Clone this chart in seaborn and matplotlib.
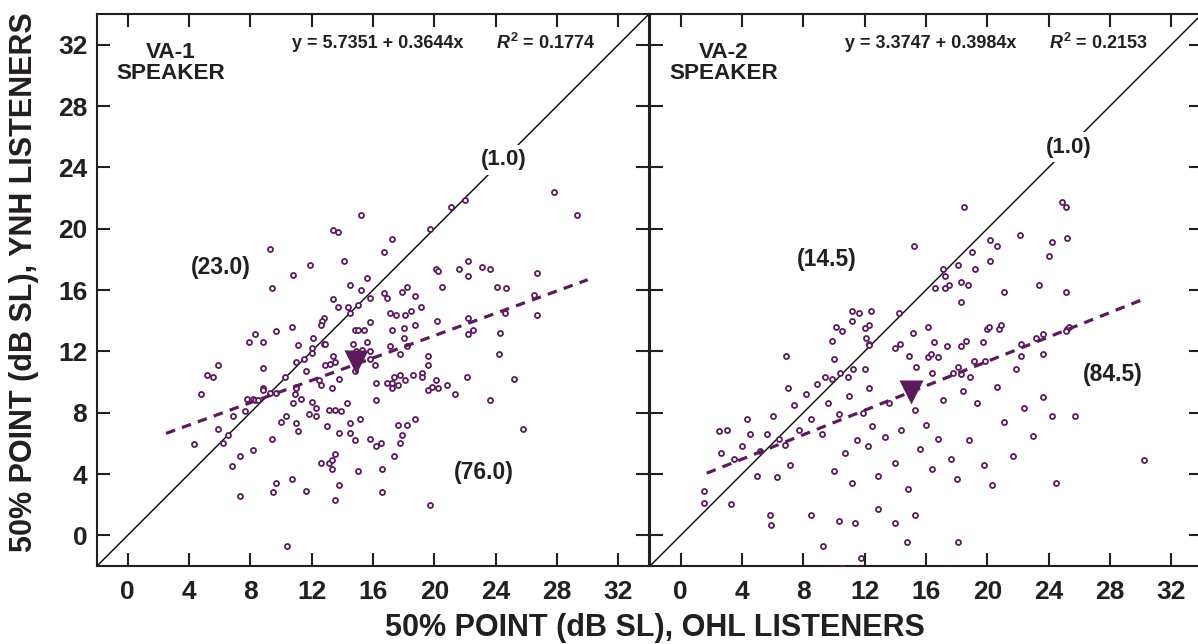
import numpy as np
import pandas as pd
import matplotlib
matplotlib.use("Agg")
import matplotlib.pyplot as plt
import seaborn as sns

# ---------------- data ----------------
va1_x = [15.25, 13.4, 13.7, 9.3, 16.7, 14.1, 11.9, 10.8, 15.6, 9.4, 14.5, 15.2, 16.7, 15.8, 13.4, 13.7,
         14.4, 15.0, 14.5, 12.8, 12.7, 12.6, 15.8, 10.7, 9.7, 8.3, 7.9, 8.8, 12.1, 14.8, 15.0, 15.4,
         11.1, 12.0, 12.8, 12.9, 14.7, 15.6, 14.9, 15.3, 15.8, 12.0, 13.4, 11.0, 11.5, 5.9, 8.8, 12.9,
         13.2, 13.5, 15.8, 16.1,
         27.8, 29.3, 22.0, 21.1, 19.7, 17.25, 22.2, 20.1, 20.25, 21.6, 23.1, 23.6, 22.2, 26.7, 20.5,
         24.1, 24.7, 16.9, 18.2, 17.9, 18.75, 26.5, 17.1, 17.5, 18.1, 18.5, 19.1, 24.6, 26.7, 17.25,
         18.0, 18.75, 20.2, 22.2, 22.2, 22.5, 24.3, 18.0, 17.1, 18.25, 17.75, 19.6, 19.6, 24.2,
         5.2, 5.55, 4.8, 10.25, 11.6, 8.8, 8.8, 9.3, 9.65, 7.8, 8.15, 8.3, 8.5, 11.0, 11.0, 10.9, 11.3,
         10.8, 12.0, 12.3, 11.8, 12.3, 12.5, 12.6, 13.3, 13.8, 14.8, 16.2, 16.2, 14.3, 13.1, 13.5, 13.9,
         6.9, 7.65, 10.3, 10.0, 11.0, 11.1, 5.9, 6.55, 6.2, 4.3, 13.0, 13.8, 14.5, 14.5, 15.15, 14.8,
         15.8, 16.2, 16.5, 9.4, 8.15, 7.3, 6.8, 13.5, 12.6, 13.1, 13.3, 13.3, 15.0, 16.6, 9.7, 10.7,
         9.5, 11.6, 13.8, 13.5, 16.6, 7.3, 10.4,
         16.9, 17.25, 17.4, 17.75, 18.1, 18.6, 19.2, 19.2, 17.25, 17.6, 19.6, 19.85, 20.1, 20.25, 20.85,
         21.35, 22.1, 25.2, 23.6, 18.75, 17.6, 18.25, 17.9, 17.75, 17.4, 25.8, 19.7]
va1_y = [20.9, 19.9, 19.8, 18.7, 18.5, 17.9, 17.6, 17.0, 16.8, 16.1, 16.3, 16.0, 15.8, 15.5, 15.4, 14.9,
         14.9, 15.0, 14.5, 14.2, 14.0, 13.75, 13.9, 13.6, 13.3, 13.1, 12.6, 12.6, 12.85, 13.4, 13.4, 13.4,
         12.4, 12.2, 12.5, 12.5, 12.5, 12.6, 12.0, 12.1, 12.0, 11.9, 11.7, 11.3, 11.5, 11.1, 10.9, 11.1,
         11.2, 11.3, 11.5, 11.1,
         22.4, 20.9, 21.9, 21.4, 20.0, 19.3, 17.9, 17.4, 17.25, 17.4, 17.5, 17.4, 16.9, 17.1, 16.2,
         16.2, 16.1, 15.5, 16.2, 15.9, 15.6, 15.7, 14.5, 14.4, 14.4, 14.6, 14.9, 14.5, 14.4, 13.4,
         13.5, 13.7, 14.0, 14.2, 13.1, 13.4, 13.2, 12.85, 12.35, 12.35, 11.85, 11.7, 11.1, 11.85,
         10.45, 10.35, 9.2, 10.35, 10.7, 9.6, 9.45, 9.3, 9.3, 8.9, 8.9, 8.8, 8.8, 9.7, 9.6, 9.2, 8.9,
         8.6, 8.7, 8.3, 7.9, 7.8, 10.1, 9.8, 9.6, 10.2, 10.7, 9.95, 8.8, 8.6, 8.2, 8.2, 8.1,
         7.8, 8.1, 7.8, 7.4, 7.3, 6.8, 6.95, 6.55, 6.05, 5.95, 7.1, 6.7, 7.3, 6.7, 7.6, 6.2,
         6.3, 5.8, 6.05, 6.3, 5.55, 5.2, 4.55, 5.3, 4.7, 4.7, 4.9, 4.3, 4.2, 4.3, 3.4, 3.7,
         2.8, 2.9, 3.3, 2.3, 2.8, 2.55, -0.7,
         9.95, 9.95, 10.35, 10.45, 10.1, 10.45, 10.6, 10.35, 9.6, 9.8, 9.45, 9.7, 10.1, 9.6, 9.8,
         9.2, 10.3, 10.2, 8.8, 7.6, 7.2, 7.2, 6.55, 6.05, 5.2, 6.95, 2.0]

va2_x = [15.2, 6.9, 11.15, 11.6, 12.4, 11.15, 10.1, 10.5, 12.0, 12.3, 9.9, 12.1, 12.3, 12.25, 14.25, 15.15,
         14.3, 14.0, 14.9, 16.1, 16.1, 15.35, 10.0, 9.4, 9.9, 10.4, 10.9, 11.25, 12.0,
         24.85, 25.1, 18.5, 22.1, 20.2, 20.6, 24.2, 25.2, 19.0, 20.2, 24.0, 18.1, 19.2, 17.1, 17.25,
         18.25, 18.75, 17.5, 17.25, 16.6, 23.35, 21.1, 25.1, 18.25, 20.0, 20.1, 20.75, 20.9, 25.2, 25.35,
         25.1, 16.5, 18.6, 19.7, 17.35, 18.25, 22.2, 23.2, 23.6, 16.35, 16.75, 22.2, 23.6, 19.1, 19.85,
         18.1, 16.4, 17.75, 18.25, 18.9, 21.85,
         3.3, 5.8, 5.9, 8.5, 9.25, 10.3, 11.35, 11.75, 10.5, 12.9, 14.0, 14.75, 15.25, 18.1,
         2.5, 3.0, 2.6, 3.5, 4.0, 4.5, 4.3, 5.2, 5.6, 6.0, 6.4, 6.8, 7.1, 7.4, 7.7, 7.0, 6.3, 5.0, 1.5, 1.5,
         8.2, 8.5, 8.9, 9.2, 9.6, 10.0, 10.3, 10.7, 11.0, 11.2, 11.5, 11.9, 12.2, 12.5, 12.9, 12.3,
         13.3, 13.6, 14.0, 14.4, 14.8, 15.3, 15.6, 16.0, 16.4, 16.8, 17.1, 17.6, 18.0, 18.4,
         18.8, 19.3, 19.8, 20.3, 20.6, 21.1, 21.7, 22.4, 23.0, 23.6, 24.2, 24.5, 25.7, 30.2]
va2_y = [18.9, 11.7, 14.6, 14.5, 14.6, 14.0, 13.6, 13.35, 13.5, 13.7, 12.7, 12.85, 12.5, 12.4, 14.5, 13.2,
         12.5, 12.2, 11.7, 13.6, 11.6, 11.0, 11.5, 10.35, 10.2, 10.6, 10.35, 10.85, 10.85,
         21.75, 21.4, 21.4, 19.6, 19.25, 18.9, 19.1, 19.4, 18.5, 17.9, 18.25, 17.6, 17.4, 17.4, 16.9,
         16.5, 16.35, 16.35, 16.1, 16.1, 16.35, 15.85, 15.85, 15.2, 13.45, 13.6, 13.45, 13.7, 13.45, 13.6,
         13.3, 12.6, 12.7, 12.6, 12.35, 12.35, 12.5, 12.85, 13.1, 11.85, 11.6, 11.7, 11.85, 11.35, 11.35,
         11.0, 10.6, 10.6, 10.5, 10.35, 10.85,
         2.05, 1.3, 0.65, 1.3, -0.7, 0.95, 0.8, -1.45, -2.1, 1.7, 0.8, -0.45, 1.3, -0.45,
         6.8, 6.9, 5.4, 5.0, 5.8, 6.6, 7.6, 5.5, 6.6, 7.8, 6.3, 5.9, 4.6, 8.5, 6.9, 9.6, 3.8, 3.9, 2.9, 2.1,
         9.2, 7.6, 9.9, 6.6, 8.6, 4.2, 7.9, 5.4, 9.1, 3.4, 6.2, 8.0, 5.8, 7.1, 3.9, 9.6,
         6.4, 8.6, 4.7, 6.9, 3.0, 8.2, 5.6, 7.2, 4.3, 6.3, 8.8, 5.0, 3.7, 9.4,
         6.2, 8.6, 4.6, 3.3, 9.7, 7.4, 5.2, 8.3, 6.5, 9.0, 7.8, 3.4, 7.8, 4.9]

panels = ["VA-1", "VA-2"]
fit_intercept = [5.7351, 3.3747]
fit_slope = [0.3644, 0.3984]
fit_r2 = [0.1774, 0.2153]
fit_xrange = [[2.5, 30.0], [1.7, 30.4]]
mean_x = [14.9, 15.0]
mean_y = [11.3, 9.35]
region_labels = [["(23.0)", "(76.0)"], ["(14.5)", "(84.5)"]]
region_label_x = [[6.1, 23.2], [9.5, 28.2]]
region_label_y = [[17.5, 4.1], [18.0, 10.5]]
unity_label_xy = [24.5, 25.3]
ticks = [0, 4, 8, 12, 16, 20, 24, 28, 32]

PURPLE = "#5c1a5e"
INK = "#231f20"

sns.set_theme(style="ticks")
plt.rcParams.update({
    "font.family": ["Liberation Sans", "DejaVu Sans"],
    "font.weight": "bold",
    "mathtext.fontset": "custom",
    "mathtext.rm": "Liberation Sans:bold",
    "mathtext.it": "Liberation Sans:italic:bold",
    "mathtext.bf": "Liberation Sans:bold",
    "axes.linewidth": 1.5,
    "axes.edgecolor": INK,
    "text.color": INK,
    "xtick.color": INK,
    "ytick.color": INK,
})

fig = plt.figure(figsize=(11.98, 6.44), dpi=100)
H = 552 / 644
B = 1 - 566 / 644
W = 552 / 1198
axes = [fig.add_axes([97 / 1198, B, W, H]), fig.add_axes([650 / 1198, B, W, H])]

data = [pd.DataFrame({"x": va1_x, "y": va1_y}), pd.DataFrame({"x": va2_x, "y": va2_y})]

for i, ax in enumerate(axes):
    df = data[i]
    ax.axline((0, 0), slope=1, color="black", lw=1.0, zorder=1)
    sns.scatterplot(data=df, x="x", y="y", ax=ax, marker="o", s=13,
                    facecolor="white", edgecolor=PURPLE, linewidth=1.3, zorder=3)
    fx = np.array(fit_xrange[i])
    fy = fit_intercept[i] + fit_slope[i] * fx
    sns.lineplot(x=fx, y=fy, ax=ax, color=PURPLE, lw=2.3, zorder=4)
    ax.lines[-1].set_linestyle((0, (3.0, 2.3)))
    sns.scatterplot(x=[mean_x[i]], y=[mean_y[i]], ax=ax, marker="v", s=300,
                    color=PURPLE, edgecolor=PURPLE, linewidth=0, zorder=5)

    ax.set_xlim(-2, 34)
    ax.set_ylim(-2, 34)
    ax.set_xticks(ticks)
    ax.set_yticks(ticks)
    ax.tick_params(direction="in", length=9.5, width=1.5, top=True, right=True,
                   labelsize=19, pad=10)
    ax.tick_params(axis="y", pad=7)
    if i == 1:
        ax.tick_params(labelleft=False)
    for lab in ax.get_xticklabels() + ax.get_yticklabels():
        lab.set_fontweight("bold")
    ax.set_xlabel("")
    ax.set_ylabel("")
    for sp in ax.spines.values():
        sp.set_linewidth(1.5)
        sp.set_color(INK)

    ax.text(2.82, 30.8, f"{panels[i]}\nSPEAKER", ha="center", va="center",
            fontsize=16.2, fontweight="bold", linespacing=0.95)
    ax.text(10.7, 32.1, f"y = {fit_intercept[i]:.4f} + {fit_slope[i]:.4f}x",
            ha="left", va="center", fontsize=13, fontweight="bold")
    ax.text(30.47, 32.1, "$\\mathit{R}^{\\mathrm{2}}$" + f" = {fit_r2[i]:.4f}",
            ha="right", va="center", fontsize=13, fontweight="bold")
    u = unity_label_xy[i]
    ax.text(u, u, "(1.0)", ha="center", va="center", fontsize=16, fontweight="bold",
            zorder=6, bbox=dict(boxstyle="square,pad=0.2", fc="white", ec="none"))
    for lab, lx, ly in zip(region_labels[i], region_label_x[i], region_label_y[i]):
        ax.text(lx, ly, lab, ha="center", va="center", fontsize=16.5, fontweight="bold")

fig.text(655 / 1198, 1 - 628 / 644, "50% POINT (dB SL), OHL LISTENERS", ha="center",
         va="center", fontsize=22, fontweight="bold")
fig.text(24 / 1198, 1 - 282 / 644, "50% POINT (dB SL), YNH LISTENERS", ha="center",
         va="center", rotation=90, fontsize=22, fontweight="bold")

fig.savefig("out.png", dpi=100)
